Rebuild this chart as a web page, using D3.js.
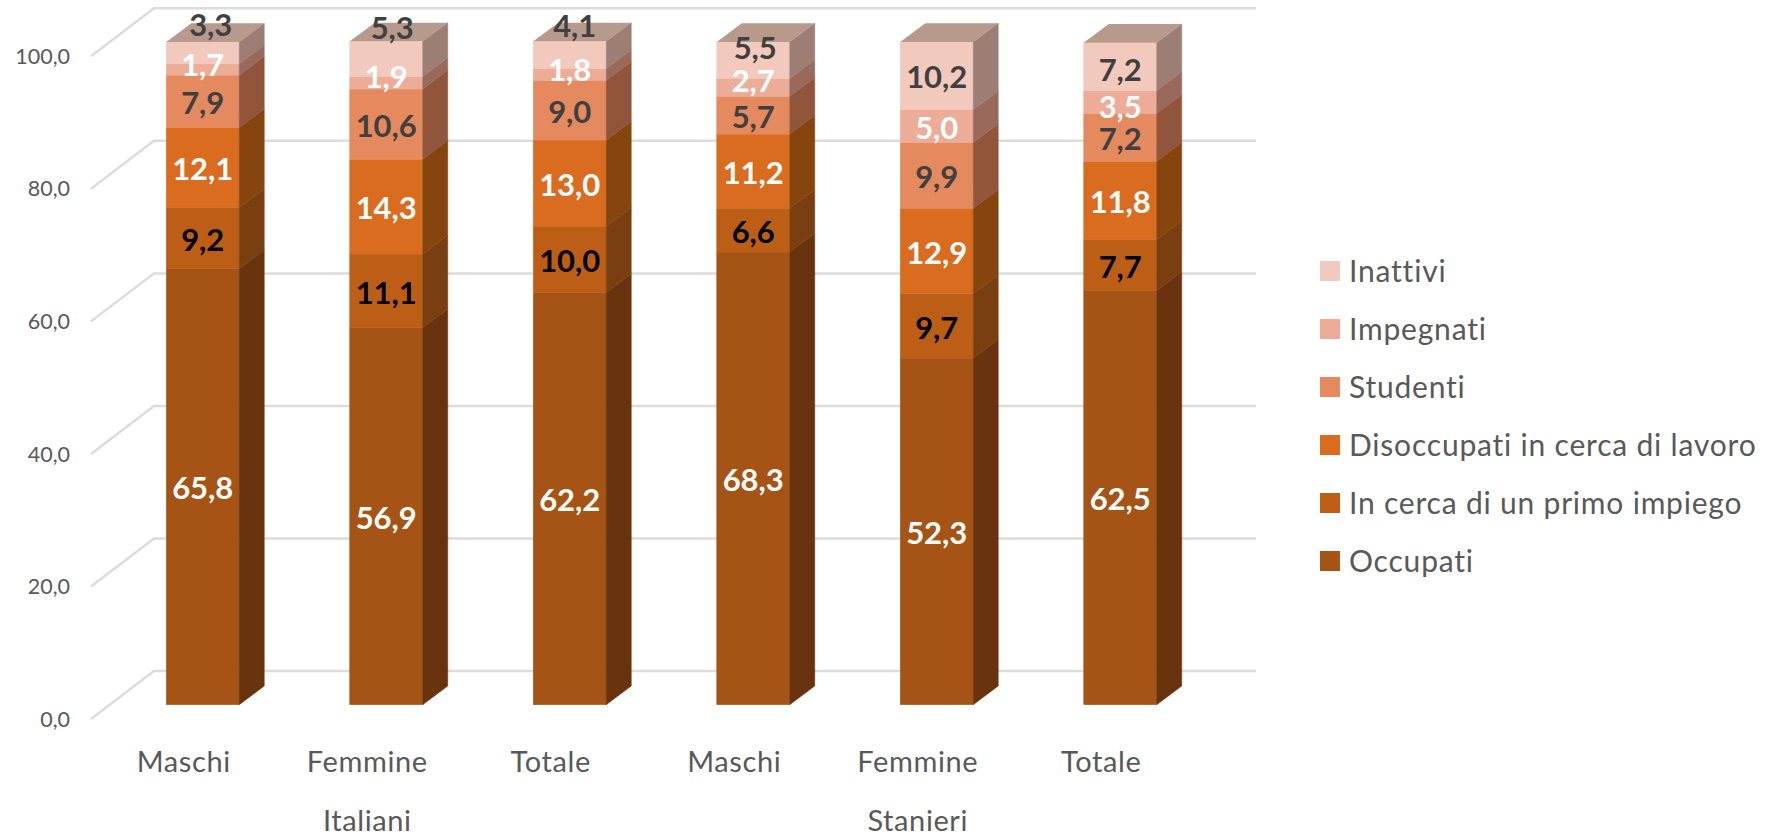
<!DOCTYPE html>
<html>
<head>
<meta charset="utf-8">
<script src="https://cdn.jsdelivr.net/npm/d3@7"></script>
<style>
  body { margin: 0; background: #fff; }
  text { font-family: Lato, "Open Sans", sans-serif; font-variant-ligatures: none; }
</style>
</head>
<body>
<div id="chart"></div>
<script>
// data, bottom of the stack first
var series = ["Occupati", "In cerca di un primo impiego", "Disoccupati in cerca di lavoro", "Studenti", "Impegnati", "Inattivi"];
var categories = ["Maschi", "Femmine", "Totale", "Maschi", "Femmine", "Totale"];
var groups = ["Italiani", "Stanieri"];
var occupati    = [65.8, 56.9, 62.2, 68.3, 52.3, 62.5];
var primoImpiego = [9.2, 11.1, 10.0, 6.6, 9.7, 7.7];
var disoccupati = [12.1, 14.3, 13.0, 11.2, 12.9, 11.8];
var studenti    = [7.9, 10.6, 9.0, 5.7, 9.9, 7.2];
var impegnati   = [1.7, 1.9, 1.8, 2.7, 5.0, 3.5];
var inattivi    = [3.3, 5.3, 4.1, 5.5, 10.2, 7.2];
var yTicks = [0, 20, 40, 60, 80, 100];
var values = [occupati, primoImpiego, disoccupati, studenti, impegnati, inattivi];

// colours per series
var frontColors = ["#a55415", "#bd5e17", "#d96c1e", "#e5895f", "#ecac98", "#f2c9bd"];
var sideColors  = ["#69330e", "#7a3f10", "#86450f", "#91553b", "#99695b", "#9d7e75"];
var labelColors = ["#ffffff", "#000000", "#ffffff", "#404040", "#ffffff", "#404040"];
var topColor = "#b89a8d";

// hand moved labels in the original: "bar-series": [dx, dy]
var labelNudge = {
  "0-5": [8, -30], "1-5": [6, -33], "2-5": [5, -31], "3-5": [2, -14],
  "0-4": [0, -6], "1-4": [0, -7], "2-4": [0, -6], "3-4": [0, -8],
  "5-4": [0, 3], "5-5": [0, 2]
};

var w = 1767;
var h = 836;
var depthX = 25;
var depthY = 18.7;
var floorBack = 33.7;   // back wall sits this far above the front of the bars

var x = d3.scaleBand()
  .domain(d3.range(categories.length))
  .range([111, 111 + 183.5 * 6])
  .paddingInner(1 - 73 / 183.5)
  .paddingOuter((1 - 73 / 183.5) / 2);

var y = d3.scaleLinear()
  .domain([0, 100])
  .range([704.7, 42]);

var svg = d3.select("#chart")
  .append("svg")
  .attr("width", w)
  .attr("height", h);

// gridlines, on the back wall and on the left wall
var grid = svg.append("g").attr("fill", "none").attr("stroke", "#dcdcdc").attr("stroke-width", 2.5);
grid.selectAll("path")
  .data(yTicks)
  .enter()
  .append("path")
  .attr("d", function(d) {
    var yb = y(d) - floorBack;
    return "M91," + (yb + 48) + "L154," + yb + "H1256";
  });

// value axis
var yAxis = d3.axisLeft(y)
  .tickValues(yTicks)
  .tickSize(0)
  .tickPadding(8)
  .tickFormat(function(d) { return d3.format(".1f")(d).replace(".", ","); });

svg.append("g")
  .attr("transform", "translate(78,14.5)")
  .call(yAxis)
  .call(function(g) { g.select(".domain").remove(); })
  .selectAll("text")
  .attr("fill", "#595959")
  .style("font-size", "21.5px")
  .style("font-family", "Lato");

// bars
var bw = x.bandwidth();
categories.forEach(function(c, i) {
  var base = 0;
  var bar = svg.append("g");
  values.forEach(function(v, s) {
    var y0 = y(base);
    var y1 = y(base + v[i]);
    var x0 = x(i);
    var x1 = x0 + bw;
    // thin same colour stroke closes the seams between segments
    bar.append("rect")
      .attr("x", x0).attr("y", y1)
      .attr("width", bw).attr("height", y0 - y1)
      .attr("fill", frontColors[s])
      .attr("stroke", frontColors[s])
      .attr("stroke-width", 0.5);
    bar.append("polygon")
      .attr("points", [[x1, y0], [x1 + depthX, y0 - depthY], [x1 + depthX, y1 - depthY], [x1, y1]].join(" "))
      .attr("fill", sideColors[s])
      .attr("stroke", sideColors[s])
      .attr("stroke-width", 0.5);
    base += v[i];
  });
  var yt = y(base);
  bar.append("polygon")
    .attr("points", [[x(i), yt], [x(i) + depthX, yt - depthY], [x(i) + bw + depthX, yt - depthY], [x(i) + bw, yt]].join(" "))
    .attr("fill", topColor);
});

// data labels go on top of every bar
categories.forEach(function(c, i) {
  var base = 0;
  values.forEach(function(v, s) {
    var nudge = labelNudge[i + "-" + s] || [0, 0];
    svg.append("text")
      .attr("x", x(i) + bw / 2 + nudge[0])
      .attr("y", y(base + v[i] / 2) + nudge[1] + 1.5)
      .attr("dy", "0.36em")
      .attr("text-anchor", "middle")
      .attr("fill", labelColors[s])
      .style("font-size", "31px")
      .style("font-weight", "700")
      .text(d3.format(".1f")(v[i]).replace(".", ","));
    base += v[i];
  });
});

// category axis
var xAxis = d3.axisBottom(x)
  .tickSize(0)
  .tickFormat(function(d) { return categories[d]; });

svg.append("g")
  .attr("transform", "translate(-19,748)")
  .call(xAxis)
  .call(function(g) { g.select(".domain").remove(); })
  .selectAll("text")
  .attr("fill", "#595959")
  .style("font-size", "29px")
  .style("letter-spacing", "0.6px")
  .style("font-family", "Lato");

svg.selectAll("text.group")
  .data(groups)
  .enter()
  .append("text")
  .attr("class", "group")
  .attr("x", function(d, i) { return x(i * 3 + 1) + bw / 2 - 19; })
  .attr("y", 831)
  .attr("text-anchor", "middle")
  .attr("fill", "#595959")
  .style("font-size", "29px")
  .style("letter-spacing", "0.6px")
  .text(function(d) { return d; });

// legend, top one is the last series
var legend = svg.selectAll("g.legend")
  .data(series.slice().reverse())
  .enter()
  .append("g")
  .attr("class", "legend")
  .attr("transform", function(d, i) { return "translate(1320," + (261 + i * 58) + ")"; });

legend.append("rect")
  .attr("width", 20)
  .attr("height", 20)
  .attr("fill", function(d) { return frontColors[series.indexOf(d)]; });

legend.append("text")
  .attr("x", 29)
  .attr("y", 10)
  .attr("dy", "0.36em")
  .attr("fill", "#595959")
  .style("font-size", "30px")
  .style("letter-spacing", "0.8px")
  .text(function(d) { return d; });
</script>
</body>
</html>
